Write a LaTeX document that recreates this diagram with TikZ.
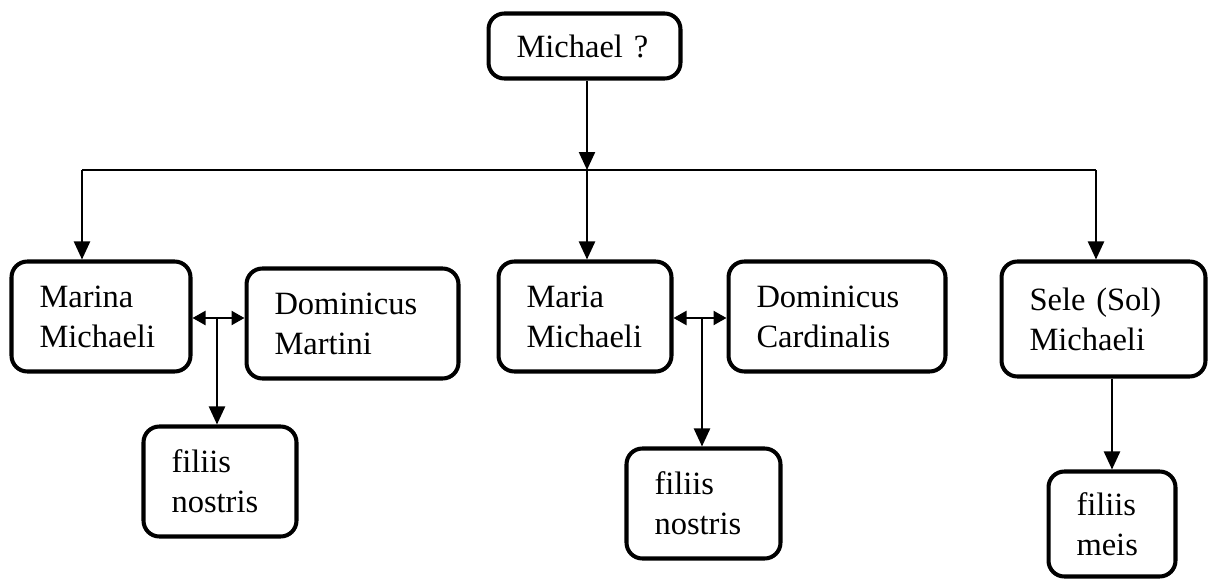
\documentclass[tikz,border=0pt]{standalone}
\usepackage{fontspec}
\setmainfont{Liberation Serif}
\usetikzlibrary{positioning,arrows.meta,calc}

\begin{document}
\begin{tikzpicture}[x=0.02cm, y=-0.02cm,
  every node/.style={font=\fontsize{18.5pt}{22.8pt}\selectfont},
  kin/.style={draw, line width=2.3pt, rounded corners=9pt, align=left,
    inner xsep=0.56cm, inner ysep=0pt, minimum height=2.2cm},
  descent/.style={line width=1.3pt, -{Triangle[length=0.36cm,width=0.32cm]}},
  wed/.style={line width=1.3pt,
    {Triangle[length=0.26cm,width=0.28cm]}-{Triangle[length=0.26cm,width=0.28cm]}}]
  \useasboundingbox (0,0) rectangle (1208,581);

  \node[kin, text width=2.72cm, minimum height=1.3cm] (father) at (584.5,46) {Michael ?};

  \node[kin, text width=2.46cm] (marina)     at (101,316.5)   {Marina\\Michaeli};
  \node[kin, text width=3.12cm] (martini)    at (352.5,323.5) {Dominicus\\Martini};
  \node[kin, text width=1.94cm] (kidsA)      at (220,481.5)   {filiis\\nostris};
  \node[kin, text width=2.34cm] (maria)      at (585,316.5)   {Maria\\Michaeli};
  \node[kin, text width=3.22cm] (cardinalis) at (837,316.5)   {Dominicus\\Cardinalis};
  \node[kin, text width=1.96cm] (kidsB)      at (703.5,503.5) {filiis\\nostris};
  \node[kin, text width=2.96cm, minimum height=2.3cm] (sele)  at (1103.5,319) {Sele (Sol)\\Michaeli};
  \node[kin, text width=1.42cm, minimum height=2.1cm] (kidsC) at (1112,524)   {filiis\\meis};

  \coordinate (barL) at (82,170);
  \coordinate (barM) at (587,170);
  \coordinate (barR) at (1096,170);
  \coordinate (wedA) at (217,318);
  \coordinate (wedB) at (702,318);

  \draw[descent] (barM |- father.south) -- (barM);
  \draw[line width=0.7pt] (barL) -- (barR);
  \draw[descent] (barL) -- (barL |- marina.north);
  \draw[descent] (barM) -- (barM |- maria.north);
  \draw[descent] (barR) -- (barR |- sele.north);

  \draw[wed] (wedA -| marina.east) -- (wedA -| martini.west);
  \draw[descent] (wedA) -- (wedA |- kidsA.north);
  \draw[wed] (wedB -| maria.east) -- (wedB -| cardinalis.west);
  \draw[descent] (wedB) -- (wedB |- kidsB.north);

  \draw[descent] (kidsC.north |- sele.south) -- (kidsC.north);
\end{tikzpicture}
\end{document}
